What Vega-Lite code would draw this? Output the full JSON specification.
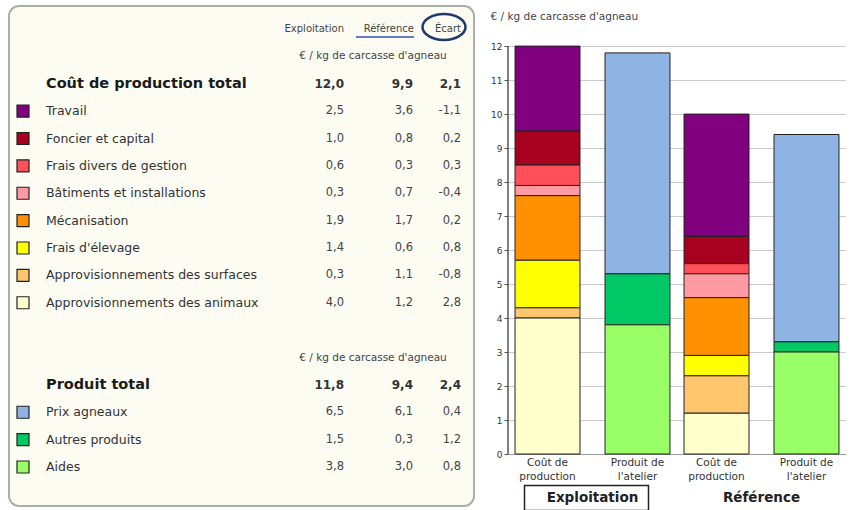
{
  "$schema": "https://vega.github.io/schema/vega-lite/v6.json",
  "padding": {"left": 8, "top": 5, "right": 0, "bottom": 0},
  "background": "white",
  "spacing": 15,
  "config": {
    "locale": {"number": {"decimal": ",", "thousands": " ", "grouping": [3], "currency": ["", " €"], "minus": "-"}},
    "font": "DejaVu Sans",
    "view": {"stroke": null}
  },
  "datasets": {
    "tableau": [
      {"ligne": "Coût de production total", "niveau": "total", "bloc": "Coût de production", "ordre": 0, "Exploitation": 12.0, "Référence": 9.9, "Écart": 2.1},
      {"ligne": "Travail", "niveau": "poste", "bloc": "Coût de production", "ordre": 1, "Exploitation": 2.5, "Référence": 3.6, "Écart": -1.1},
      {"ligne": "Foncier et capital", "niveau": "poste", "bloc": "Coût de production", "ordre": 2, "Exploitation": 1.0, "Référence": 0.8, "Écart": 0.2},
      {"ligne": "Frais divers de gestion", "niveau": "poste", "bloc": "Coût de production", "ordre": 3, "Exploitation": 0.6, "Référence": 0.3, "Écart": 0.3},
      {"ligne": "Bâtiments et installations", "niveau": "poste", "bloc": "Coût de production", "ordre": 4, "Exploitation": 0.3, "Référence": 0.7, "Écart": -0.4},
      {"ligne": "Mécanisation", "niveau": "poste", "bloc": "Coût de production", "ordre": 5, "Exploitation": 1.9, "Référence": 1.7, "Écart": 0.2},
      {"ligne": "Frais d'élevage", "niveau": "poste", "bloc": "Coût de production", "ordre": 6, "Exploitation": 1.4, "Référence": 0.6, "Écart": 0.8},
      {"ligne": "Approvisionnements des surfaces", "niveau": "poste", "bloc": "Coût de production", "ordre": 7, "Exploitation": 0.3, "Référence": 1.1, "Écart": -0.8},
      {"ligne": "Approvisionnements des animaux", "niveau": "poste", "bloc": "Coût de production", "ordre": 8, "Exploitation": 4.0, "Référence": 1.2, "Écart": 2.8},
      {"ligne": "Produit total", "niveau": "total", "bloc": "Produit de l'atelier", "ordre": 0, "Exploitation": 11.8, "Référence": 9.4, "Écart": 2.4},
      {"ligne": "Prix agneaux", "niveau": "poste", "bloc": "Produit de l'atelier", "ordre": 1, "Exploitation": 6.5, "Référence": 6.1, "Écart": 0.4},
      {"ligne": "Autres produits", "niveau": "poste", "bloc": "Produit de l'atelier", "ordre": 2, "Exploitation": 1.5, "Référence": 0.3, "Écart": 1.2},
      {"ligne": "Aides", "niveau": "poste", "bloc": "Produit de l'atelier", "ordre": 3, "Exploitation": 3.8, "Référence": 3.0, "Écart": 0.8}
    ]
  },
  "hconcat": [
    {
      "width": 465,
      "height": 500,
      "view": {"fill": "#fcfcf3", "stroke": "#a9b0a6", "strokeWidth": 2, "cornerRadius": 10},
      "data": {"name": "tableau"},
      "encoding": {
        "y": {
          "field": "ligne", "type": "nominal", "axis": null,
          "scale": {
            "type": "point", "padding": 0, "range": [23, 461],
            "domain": ["entete", "unite1", "Coût de production total", "Travail", "Foncier et capital", "Frais divers de gestion", "Bâtiments et installations", "Mécanisation", "Frais d'élevage", "Approvisionnements des surfaces", "Approvisionnements des animaux", "vide", "unite2", "Produit total", "Prix agneaux", "Autres produits", "Aides"]
          }
        }
      },
      "layer": [
        {
          "transform": [{"filter": "datum.niveau === 'poste'"}],
          "mark": {"type": "point", "shape": "square", "filled": true, "size": 144, "x": 14, "stroke": "#222", "strokeWidth": 1.2, "opacity": 1},
          "encoding": {
            "color": {
              "field": "ligne", "type": "nominal", "legend": null,
              "scale": {
                "domain": ["Travail", "Foncier et capital", "Frais divers de gestion", "Bâtiments et installations", "Mécanisation", "Frais d'élevage", "Approvisionnements des surfaces", "Approvisionnements des animaux", "Prix agneaux", "Autres produits", "Aides"],
                "range": ["#800080", "#a8001f", "#ff4f58", "#ff9aa2", "#ff9000", "#ffff00", "#ffc66e", "#ffffcc", "#8fb4e3", "#00c864", "#99ff66"]
              }
            }
          }
        },
        {
          "transform": [{"filter": "datum.niveau === 'poste'"}],
          "mark": {"type": "text", "align": "left", "x": 37, "fontSize": 12.5, "color": "#333"},
          "encoding": {"text": {"field": "ligne"}}
        },
        {
          "transform": [{"filter": "datum.niveau === 'total'"}],
          "mark": {"type": "text", "align": "left", "x": 37, "fontSize": 14.5, "fontWeight": "bold", "color": "#1a1a1a"},
          "encoding": {"text": {"field": "ligne"}}
        },
        {
          "transform": [{"filter": "datum.niveau === 'poste'"}],
          "mark": {"type": "text", "align": "right", "x": 335, "fontSize": 11.5, "color": "#444"},
          "encoding": {"text": {"field": "Exploitation", "format": ".1f"}}
        },
        {
          "transform": [{"filter": "datum.niveau === 'poste'"}],
          "mark": {"type": "text", "align": "right", "x": 404, "fontSize": 11.5, "color": "#444"},
          "encoding": {"text": {"field": "Référence", "format": ".1f"}}
        },
        {
          "transform": [{"filter": "datum.niveau === 'poste'"}],
          "mark": {"type": "text", "align": "right", "x": 452, "fontSize": 11.5, "color": "#444"},
          "encoding": {"text": {"field": "Écart", "format": ".1f"}}
        },
        {
          "transform": [{"filter": "datum.niveau === 'total'"}],
          "mark": {"type": "text", "align": "right", "x": 335, "fontSize": 12, "fontWeight": "bold", "color": "#333"},
          "encoding": {"text": {"field": "Exploitation", "format": ".1f"}}
        },
        {
          "transform": [{"filter": "datum.niveau === 'total'"}],
          "mark": {"type": "text", "align": "right", "x": 404, "fontSize": 12, "fontWeight": "bold", "color": "#333"},
          "encoding": {"text": {"field": "Référence", "format": ".1f"}}
        },
        {
          "transform": [{"filter": "datum.niveau === 'total'"}],
          "mark": {"type": "text", "align": "right", "x": 452, "fontSize": 12, "fontWeight": "bold", "color": "#333"},
          "encoding": {"text": {"field": "Écart", "format": ".1f"}}
        },
        {
          "data": {"values": [{"ligne": "entete", "texte": "Exploitation"}]},
          "mark": {"type": "text", "align": "right", "x": 335, "fontSize": 10, "color": "#444"},
          "encoding": {"text": {"field": "texte"}}
        },
        {
          "data": {"values": [{"ligne": "entete", "texte": "Référence"}]},
          "mark": {"type": "text", "align": "right", "x": 405, "fontSize": 10, "color": "#444"},
          "encoding": {"text": {"field": "texte"}}
        },
        {
          "data": {"values": [{"ligne": "entete", "texte": "Écart"}]},
          "mark": {"type": "text", "align": "right", "x": 452, "fontSize": 10, "color": "#444"},
          "encoding": {"text": {"field": "texte"}}
        },
        {
          "data": {"values": [{"ligne": "entete"}]},
          "mark": {"type": "rule", "x": 347, "x2": 405, "yOffset": 8, "color": "#3050b8", "strokeWidth": 1.5},
          "encoding": {}
        },
        {
          "data": {"values": [{"ligne": "entete"}]},
          "mark": {"type": "point", "shape": "M-1,0 C-1,-0.331 -0.552,-0.6 0,-0.6 C0.552,-0.6 1,-0.331 1,0 C1,0.331 0.552,0.6 0,0.6 C-0.552,0.6 -1,0.331 -1,0 Z", "size": 1849, "x": 435, "yOffset": -2, "filled": false, "stroke": "#1f3a6b", "strokeWidth": 2.5, "opacity": 1},
          "encoding": {}
        },
        {
          "data": {"values": [{"ligne": "unite1"}, {"ligne": "unite2"}]},
          "mark": {"type": "text", "align": "center", "x": 364, "fontSize": 10.5, "color": "#444"},
          "encoding": {"text": {"value": "€ / kg de carcasse d'agneau"}}
        }
      ]
    },
    {
      "width": 338,
      "height": 448,
      "title": {"text": "€ / kg de carcasse d'agneau", "anchor": "start", "frame": "bounds", "fontSize": 10.5, "fontWeight": "normal", "font": "DejaVu Sans", "color": "#444", "offset": -16},
      "data": {"name": "tableau"},
      "transform": [
        {"filter": "datum.niveau === 'poste'"},
        {"fold": ["Exploitation", "Référence"], "as": ["groupe", "valeur"]}
      ],
      "layer": [
        {
          "mark": {"type": "bar", "stroke": "#222", "strokeWidth": 1},
          "encoding": {
            "x": {
              "field": "groupe", "type": "nominal", "sort": ["Exploitation", "Référence"],
              "scale": {"paddingInner": 0, "paddingOuter": 0},
              "axis": {"title": null, "labelAngle": 0, "labelFontSize": 13.5, "labelFontWeight": "bold", "labelColor": "#222", "labelPadding": 36, "ticks": false, "domainColor": "#999", "labelFont": "DejaVu Sans"}
            },
            "xOffset": {"field": "bloc", "type": "nominal", "sort": ["Coût de production", "Produit de l'atelier"], "scale": {"paddingInner": 0.278, "paddingOuter": 0.078}},
            "y": {
              "field": "valeur", "type": "quantitative", "stack": "zero",
              "scale": {"domain": [0, 13.18], "nice": false, "zero": true},
              "axis": {"title": null, "values": [0, 1, 2, 3, 4, 5, 6, 7, 8, 9, 10, 11, 12], "tickCount": 13, "labelFontSize": 9, "labelColor": "#333", "gridColor": "#cccccc", "domain": false, "tickColor": "#555", "tickSize": 4, "labelPadding": 2, "labelOverlap": false}
            },
            "color": {
              "field": "ligne", "type": "nominal", "legend": null,
              "scale": {
                "domain": ["Travail", "Foncier et capital", "Frais divers de gestion", "Bâtiments et installations", "Mécanisation", "Frais d'élevage", "Approvisionnements des surfaces", "Approvisionnements des animaux", "Prix agneaux", "Autres produits", "Aides"],
                "range": ["#800080", "#a8001f", "#ff4f58", "#ff9aa2", "#ff9000", "#ffff00", "#ffc66e", "#ffffcc", "#8fb4e3", "#00c864", "#99ff66"]
              }
            },
            "order": {"field": "ordre", "sort": "descending"}
          }
        },
        {
          "data": {"values": [{"bas": 0, "haut": 12}]},
          "mark": {"type": "rule", "x": 0, "color": "#555", "strokeWidth": 1.5},
          "encoding": {
            "y": {
              "field": "bas", "type": "quantitative",
              "axis": {"title": null, "values": [0, 1, 2, 3, 4, 5, 6, 7, 8, 9, 10, 11, 12], "tickCount": 13, "labelFontSize": 9, "labelColor": "#333", "gridColor": "#cccccc", "domain": false, "tickColor": "#555", "tickSize": 4, "labelPadding": 2, "labelOverlap": false}
            },
            "y2": {"field": "haut"}
          }
        },
        {
          "transform": [
            {"aggregate": [{"op": "count", "as": "n"}], "groupby": ["groupe", "bloc"]},
            {"calculate": "replace(datum.bloc, ' de ', ' de|')", "as": "etiquette"}
          ],
          "mark": {"type": "text", "baseline": "top", "dy": 4, "lineBreak": "|", "fontSize": 10.5, "lineHeight": 14, "color": "#333"},
          "encoding": {
            "x": {"field": "groupe", "type": "nominal", "sort": ["Exploitation", "Référence"]},
            "xOffset": {"field": "bloc", "type": "nominal", "sort": ["Coût de production", "Produit de l'atelier"], "scale": {"paddingInner": 0.278, "paddingOuter": 0.078}},
            "y": {
              "datum": 0, "type": "quantitative",
              "axis": {"title": null, "values": [0, 1, 2, 3, 4, 5, 6, 7, 8, 9, 10, 11, 12], "tickCount": 13, "labelFontSize": 9, "labelColor": "#333", "gridColor": "#cccccc", "domain": false, "tickColor": "#555", "tickSize": 4, "labelPadding": 2, "labelOverlap": false}
            },
            "text": {"field": "etiquette"}
          }
        },
        {
          "transform": [
            {"filter": "datum.groupe === 'Exploitation'"},
            {"aggregate": [{"op": "count", "as": "n"}], "groupby": ["groupe"]}
          ],
          "mark": {"type": "point", "shape": "M-1,-0.2 L1,-0.2 L1,0.2 L-1,0.2 Z", "size": 15376, "xOffset": -6, "yOffset": 44, "filled": false, "stroke": "#222", "strokeWidth": 1.5, "opacity": 1},
          "encoding": {
            "x": {"field": "groupe", "type": "nominal", "sort": ["Exploitation", "Référence"]},
            "y": {
              "datum": 0, "type": "quantitative",
              "axis": {"title": null, "values": [0, 1, 2, 3, 4, 5, 6, 7, 8, 9, 10, 11, 12], "tickCount": 13, "labelFontSize": 9, "labelColor": "#333", "gridColor": "#cccccc", "domain": false, "tickColor": "#555", "tickSize": 4, "labelPadding": 2, "labelOverlap": false}
            }
          }
        }
      ]
    }
  ]
}
